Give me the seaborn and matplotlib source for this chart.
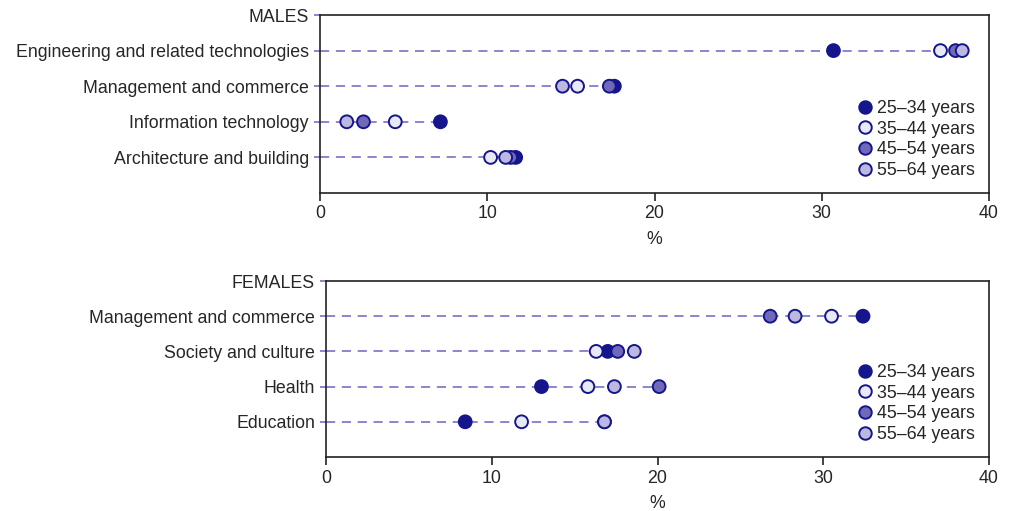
import matplotlib
matplotlib.use("Agg")
import matplotlib.pyplot as plt
import seaborn as sns
import pandas as pd
from matplotlib.lines import Line2D

sns.set_theme(style="white")
plt.rcParams['font.family'] = ['Liberation Sans', 'DejaVu Sans']

ages = ["25\u201334 years", "35\u201344 years", "45\u201354 years", "55\u201364 years"]

male_fields = ["Engineering and related technologies", "Management and commerce",
               "Information technology", "Architecture and building"]
male_25_34 = [30.7, 17.6, 7.2, 11.7]
male_35_44 = [37.1, 15.4, 4.5, 10.2]
male_45_54 = [38.0, 17.3, 2.6, 11.4]
male_55_64 = [38.4, 14.5, 1.6, 11.1]

female_fields = ["Management and commerce", "Society and culture", "Health", "Education"]
female_25_34 = [32.4, 17.0, 13.0, 8.4]
female_35_44 = [30.5, 16.3, 15.8, 11.8]
female_45_54 = [26.8, 17.6, 20.1, 16.8]
female_55_64 = [28.3, 18.6, 17.4, 16.8]

group_titles = ["MALES", "FEMALES"]
x_ticks = [0, 10, 20, 30, 40]

fills = ["#15168c", "#e9e9f6", "#7068b8", "#bcb8e0"]
edge = "#15168c"
dash_color = "#7b70c8"
text_color = "#262626"
FS = 12.8


def make_df(fields, series):
    rows = []
    for age, vals in zip(ages, series):
        for i, (f, v) in enumerate(zip(fields, vals)):
            rows.append({"field": f, "pos": i + 1, "age": age, "value": v})
    return pd.DataFrame(rows)


fig = plt.figure(figsize=(10.09, 5.11), dpi=100)
ax1 = fig.add_axes([320 / 1009, 1 - 193 / 511, (989 - 320) / 1009, (193 - 15) / 511])
ax2 = fig.add_axes([326 / 1009, 1 - 457 / 511, (989 - 326) / 1009, (457 - 281) / 511])

panels = [
    (ax1, male_fields, [male_25_34, male_35_44, male_45_54, male_55_64], group_titles[0]),
    (ax2, female_fields, [female_25_34, female_35_44, female_45_54, female_55_64], group_titles[1]),
]

for ax, fields, series, title in panels:
    df = make_df(fields, series)
    rowmax = df.groupby("pos")["value"].max()
    ax.hlines(rowmax.index, 0, rowmax.values, colors=dash_color, linestyles=(0, (5.5, 4)),
              linewidth=1.2, zorder=1)
    sns.scatterplot(data=df, x="value", y="pos", hue="age", hue_order=ages,
                    palette=fills, edgecolor=edge, linewidth=1.4, s=85,
                    ax=ax, zorder=3, legend=False)
    ax.set_xlim(0, 40)
    ax.set_ylim(5, 0)
    ax.set_xticks(x_ticks)
    ax.set_xticklabels([str(t) for t in x_ticks])
    ax.set_yticks(range(0, len(fields) + 1))
    ax.set_yticklabels([title] + fields)
    ax.set_xlabel("%", fontsize=FS, color=text_color, labelpad=6)
    ax.set_ylabel("")
    for sp in ax.spines.values():
        sp.set_visible(True)
        sp.set_color("#222222")
        sp.set_linewidth(1.2)
    ax.tick_params(axis="x", direction="out", length=6, width=1.2, color="#222222",
                   labelsize=FS, labelcolor=text_color, pad=3, bottom=True)
    ax.tick_params(axis="y", direction="out", length=4, width=1.2, color=dash_color,
                   labelsize=FS, labelcolor=text_color, pad=4, left=True)
    ax.get_yticklines()[0].set_color("#222222")
    handles = [Line2D([0], [0], marker="o", linestyle="none", markersize=9,
                      markerfacecolor=c, markeredgecolor=edge, markeredgewidth=1.4)
               for c in fills]
    ax.legend(handles, ages, loc="lower right", frameon=False, fontsize=FS,
              handletextpad=0.15, labelspacing=0.2, borderaxespad=0.4,
              handlelength=1.0, labelcolor=text_color)

fig.savefig("out.png", dpi=100)
